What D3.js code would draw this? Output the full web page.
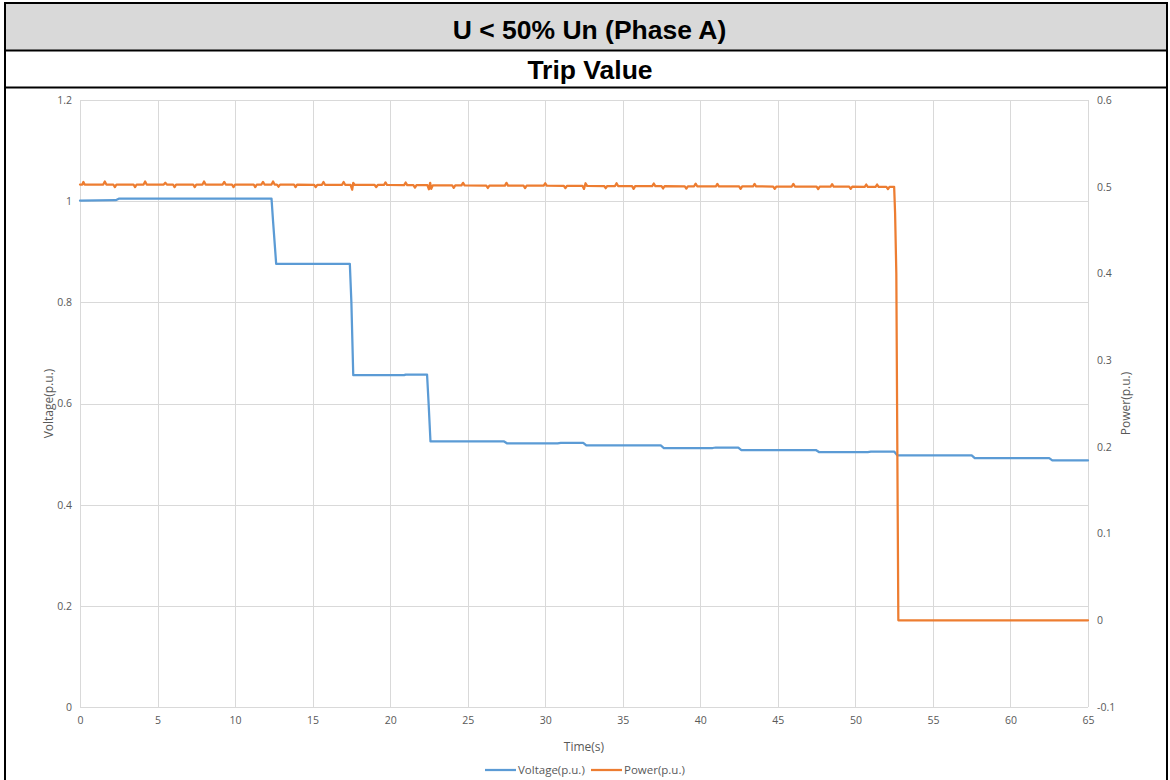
<!DOCTYPE html>
<html>
<head>
<meta charset="utf-8">
<script src="https://cdn.jsdelivr.net/npm/d3@7/dist/d3.min.js"></script>
<style>
  html, body { margin: 0; padding: 0; background: #fff; }
  svg { display: block; }
</style>
</head>
<body>
<svg id="chart" width="1170" height="780"></svg>
<script>
// ---- Data -------------------------------------------------------------
const titleText = "U < 50% Un (Phase A)";
const subTitleText = "Trip Value";

const xTicks = [0, 5, 10, 15, 20, 25, 30, 35, 40, 45, 50, 55, 60, 65];
const leftTicks = [0, 0.2, 0.4, 0.6, 0.8, 1, 1.2];
const rightTicks = [-0.1, 0, 0.1, 0.2, 0.3, 0.4, 0.5, 0.6];

// Voltage (p.u.) recorded against time (s)
const voltageTimes = [0, 2.3, 2.5, 12.35, 12.45, 12.65, 17.4, 17.5, 17.62, 20.9, 21.0,
  22.38, 22.48, 22.6, 27.35, 27.55, 30.8, 31.0, 32.45, 32.65, 37.45, 37.65, 40.8, 41.0,
  42.45, 42.65, 47.45, 47.65, 50.8, 51.0, 52.5, 52.7, 57.5, 57.7, 62.5, 62.7, 65];
const voltageValues = [1.001, 1.002, 1.005, 1.005, 0.96, 0.876, 0.876, 0.80, 0.656, 0.656, 0.657,
  0.657, 0.60, 0.525, 0.525, 0.521, 0.521, 0.522, 0.522, 0.517, 0.517, 0.512, 0.512, 0.513,
  0.513, 0.508, 0.508, 0.504, 0.504, 0.505, 0.505, 0.4975, 0.4975, 0.492, 0.492, 0.4875, 0.4875];

// Power (p.u.) recorded against time (s)
const powerSeries = [
  [0,0.5025],[0.15,0.5025],[0.22,0.5055],[0.3,0.5025],
  [1.5,0.5025],[1.6,0.506],[1.7,0.5025],
  [2.15,0.5025],[2.25,0.4995],[2.35,0.5025],
  [3.45,0.5025],[3.55,0.4995],[3.65,0.5025],
  [4.1,0.5025],[4.2,0.506],[4.3,0.5025],
  [5.4,0.5025],[5.5,0.5045],[5.6,0.5025],
  [6.0,0.5025],[6.1,0.4995],[6.2,0.5025],
  [7.3,0.5025],[7.4,0.4995],[7.5,0.5025],
  [7.9,0.5025],[8.0,0.506],[8.1,0.5025],
  [9.2,0.5025],[9.3,0.5055],[9.4,0.5025],
  [9.8,0.5025],[9.9,0.4995],[10.0,0.5025],
  [11.2,0.5025],[11.3,0.4995],[11.4,0.5025],
  [11.7,0.5025],[11.8,0.5055],[11.9,0.5025],
  [12.35,0.5025],[12.45,0.506],[12.55,0.5025],[12.7,0.5025],[12.8,0.5],[12.9,0.5025],
  [13.8,0.5025],[13.9,0.4995],[14.0,0.5025],
  [15.1,0.5022],[15.2,0.4995],[15.3,0.5022],
  [15.6,0.5022],[15.7,0.5055],[15.8,0.5022],
  [16.9,0.5022],[17.0,0.5055],[17.1,0.5022],
  [17.45,0.5022],[17.55,0.4965],[17.62,0.5045],[17.72,0.502],
  [19.0,0.502],[19.1,0.4995],[19.2,0.502],
  [19.6,0.502],[19.7,0.505],[19.8,0.502],
  [20.9,0.5018],[21.0,0.5048],[21.1,0.5018],
  [21.5,0.5018],[21.6,0.499],[21.7,0.5018],
  [22.4,0.5018],[22.5,0.497],[22.58,0.5045],[22.65,0.4975],[22.75,0.5015],
  [24.0,0.5015],[24.1,0.4988],[24.2,0.5015],
  [24.6,0.5015],[24.7,0.5045],[24.8,0.5015],
  [26.2,0.5013],[26.3,0.4985],[26.4,0.5013],
  [27.4,0.5013],[27.5,0.5045],[27.6,0.5013],
  [28.6,0.5012],[28.7,0.4985],[28.8,0.5012],
  [29.9,0.5012],[30.0,0.504],[30.1,0.5012],
  [31.2,0.501],[31.3,0.4983],[31.4,0.501],
  [32.4,0.501],[32.5,0.4975],[32.6,0.504],[32.7,0.501],
  [33.8,0.5008],[33.9,0.4983],[34.0,0.5008],
  [34.5,0.5008],[34.6,0.504],[34.7,0.5008],
  [35.6,0.5007],[35.7,0.4975],[35.8,0.5007],
  [36.9,0.5007],[37.0,0.5037],[37.1,0.5007],
  [37.5,0.5007],[37.6,0.498],[37.7,0.5007],
  [39.0,0.5005],[39.1,0.4978],[39.2,0.5005],
  [39.6,0.5005],[39.7,0.5035],[39.8,0.5005],
  [41.0,0.5003],[41.1,0.5033],[41.2,0.5003],
  [42.5,0.5003],[42.6,0.4976],[42.7,0.5003],
  [43.4,0.5003],[43.5,0.5033],[43.6,0.5003],
  [44.7,0.5002],[44.8,0.4975],[44.9,0.5002],
  [45.9,0.5002],[46.0,0.5032],[46.1,0.5002],
  [47.5,0.5],[47.6,0.4973],[47.7,0.5],
  [48.4,0.5],[48.5,0.503],[48.6,0.5],
  [49.6,0.5],[49.7,0.4975],[49.8,0.5],
  [50.6,0.4998],[50.7,0.5025],[50.8,0.4998],
  [51.3,0.4998],[51.4,0.5025],[51.5,0.4998],
  [52.0,0.4998],[52.1,0.4972],[52.2,0.4998],
  [52.5,0.4998],[52.56,0.47],[52.64,0.4],[52.72,0.15],[52.77,0.0],
  [65,0]
];

const seriesNames = ["Voltage(p.u.)", "Power(p.u.)"];
const seriesColors = ["#5B9BD5", "#ED7D31"];

// ---- Layout -----------------------------------------------------------
const svg = d3.select("#chart");
const W = 1170, H = 780;
const plot = { left: 80, right: 1088, top: 100, bottom: 707 };
const tickFont = "'Open Sans', 'Noto Sans', sans-serif";
const tickColor = "#595959";
const gridColor = "#d9d9d9";

svg.append("rect").attr("width", W).attr("height", H).attr("fill", "#fff");

// Table-style header
svg.append("rect").attr("x", 5).attr("y", 3).attr("width", 1162).attr("height", 47).attr("fill", "#d9d9d9");
const border = svg.append("g").attr("stroke", "#000").attr("fill", "none");
border.append("line").attr("x1", 4).attr("x2", 1168).attr("y1", 3).attr("y2", 3).attr("stroke-width", 2);
border.append("line").attr("x1", 5).attr("x2", 5).attr("y1", 2).attr("y2", H).attr("stroke-width", 2);
border.append("line").attr("x1", 1167).attr("x2", 1167).attr("y1", 2).attr("y2", H).attr("stroke-width", 2);
border.append("line").attr("x1", 4).attr("x2", 1168).attr("y1", 50.5).attr("y2", 50.5).attr("stroke-width", 2);
border.append("line").attr("x1", 4).attr("x2", 1168).attr("y1", 87.5).attr("y2", 87.5).attr("stroke-width", 2);

svg.append("text").attr("x", 589.5).attr("y", 38.5).attr("text-anchor", "middle")
  .attr("font-family", "'Liberation Sans', Arial, sans-serif").attr("font-weight", "bold")
  .attr("font-size", 26.5).attr("fill", "#000").text(titleText);
svg.append("text").attr("x", 590).attr("y", 78.5).attr("text-anchor", "middle")
  .attr("font-family", "'Liberation Sans', Arial, sans-serif").attr("font-weight", "bold")
  .attr("font-size", 26.5).attr("fill", "#000").text(subTitleText);

// ---- Scales -----------------------------------------------------------
const x = d3.scaleLinear().domain([0, 65]).range([plot.left, plot.right]);
const yL = d3.scaleLinear().domain([0, 1.2]).range([plot.bottom, plot.top]);
const yR = d3.scaleLinear().domain([-0.1, 0.6]).range([plot.bottom, plot.top]);

// Gridlines
const grid = svg.append("g").attr("stroke", gridColor).attr("stroke-width", 1);
grid.selectAll("line.h").data(leftTicks).join("line")
  .attr("x1", plot.left).attr("x2", plot.right)
  .attr("y1", d => Math.round(yL(d)) + 0.5).attr("y2", d => Math.round(yL(d)) + 0.5);
grid.selectAll("line.v").data(xTicks).join("line")
  .attr("y1", plot.top).attr("y2", plot.bottom)
  .attr("x1", d => Math.round(x(d)) + 0.5).attr("x2", d => Math.round(x(d)) + 0.5);

// Axes (tick labels only, Excel style)
function styleAxis(g) {
  g.select(".domain").remove();
  g.selectAll(".tick line").remove();
  g.selectAll(".tick text").attr("font-family", tickFont).attr("font-size", 10.5).attr("fill", tickColor);
}
svg.append("g").attr("transform", `translate(0,${plot.bottom})`)
  .call(d3.axisBottom(x).tickValues(xTicks).tickFormat(d3.format("d")).tickSize(0).tickPadding(10))
  .call(styleAxis);
svg.append("g").attr("transform", `translate(${plot.left},0)`)
  .call(d3.axisLeft(yL).tickValues(leftTicks).tickFormat(d => String(+d.toFixed(1))).tickSize(0).tickPadding(8))
  .call(styleAxis);
svg.append("g").attr("transform", `translate(${plot.right},0)`)
  .call(d3.axisRight(yR).tickValues(rightTicks).tickFormat(d => String(+d.toFixed(1))).tickSize(0).tickPadding(9))
  .call(styleAxis);

// Axis titles
const titleFont = { family: tickFont, size: 12 };
svg.append("text").attr("transform", `translate(53,${(plot.top + plot.bottom) / 2}) rotate(-90)`)
  .attr("text-anchor", "middle").attr("font-family", titleFont.family).attr("font-size", titleFont.size)
  .attr("fill", tickColor).text("Voltage(p.u.)");
svg.append("text").attr("transform", `translate(1130,${(plot.top + plot.bottom) / 2}) rotate(-90)`)
  .attr("text-anchor", "middle").attr("font-family", titleFont.family).attr("font-size", titleFont.size)
  .attr("fill", tickColor).text("Power(p.u.)");
svg.append("text").attr("x", (plot.left + plot.right) / 2).attr("y", 751)
  .attr("text-anchor", "middle").attr("font-family", titleFont.family).attr("font-size", titleFont.size)
  .attr("fill", tickColor).text("Time(s)");

// ---- Series -----------------------------------------------------------
const voltageData = voltageTimes.map((t, i) => [t, voltageValues[i]]);
const lineV = d3.line().x(d => x(d[0])).y(d => yL(d[1]));
const lineP = d3.line().x(d => x(d[0])).y(d => yR(d[1]));

svg.append("path").datum(voltageData).attr("d", lineV)
  .attr("fill", "none").attr("stroke", seriesColors[0]).attr("stroke-width", 2.25)
  .attr("stroke-linejoin", "round").attr("stroke-linecap", "round");
svg.append("path").datum(powerSeries).attr("d", lineP)
  .attr("fill", "none").attr("stroke", seriesColors[1]).attr("stroke-width", 2.25)
  .attr("stroke-linejoin", "round").attr("stroke-linecap", "round");

// ---- Legend -----------------------------------------------------------
const legend = svg.append("g").attr("font-family", tickFont).attr("font-size", 11.5).attr("fill", tickColor);
const legendItems = [
  { name: seriesNames[0], color: seriesColors[0], x: 485 },
  { name: seriesNames[1], color: seriesColors[1], x: 591 }
];
legendItems.forEach(it => {
  legend.append("line").attr("x1", it.x).attr("x2", it.x + 31).attr("y1", 770).attr("y2", 770)
    .attr("stroke", it.color).attr("stroke-width", 2.25);
  legend.append("text").attr("x", it.x + 33).attr("y", 774).text(it.name);
});
</script>
</body>
</html>
